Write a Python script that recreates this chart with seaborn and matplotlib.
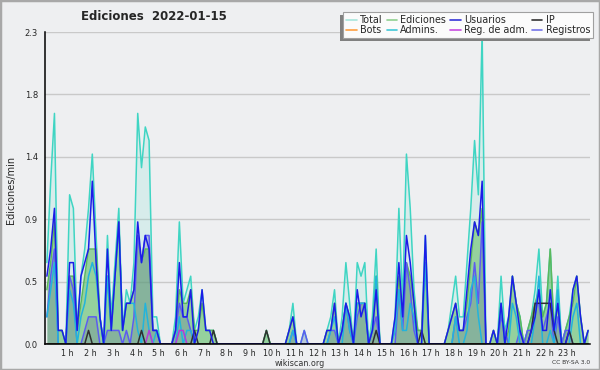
import numpy as np
import pandas as pd
import matplotlib
matplotlib.use("Agg")
import matplotlib.pyplot as plt
import seaborn as sns
from matplotlib.lines import Line2D
from matplotlib.patches import Rectangle

sns.set_style("white")
plt.rcParams["font.family"] = ["DejaVu Sans"]

# ---- data: edits per minute, 10-minute bins (one row = one hour) ----
total = [
    0.6, 1.2, 1.7, 0.1, 0.1, 0.0,
    1.1, 1.0, 0.1, 0.5, 0.7, 1.0,
    1.4, 0.8, 0.2, 0.0, 0.8, 0.2,
    0.6, 1.0, 0.1, 0.4, 0.3, 0.6,
    1.7, 1.3, 1.6, 1.5, 0.2, 0.2,
    0.0, 0.0, 0.0, 0.0, 0.2, 0.9,
    0.3, 0.4, 0.5, 0.1, 0.2, 0.4,
    0.1, 0.1, 0.1, 0.0, 0.0, 0.0,
    0.0, 0.0, 0.0, 0.0, 0.0, 0.0,
    0.0, 0.0, 0.0, 0.0, 0.1, 0.0,
    0.0, 0.0, 0.0, 0.0, 0.1, 0.3,
    0.0, 0.0, 0.1, 0.0, 0.0, 0.0,
    0.0, 0.0, 0.1, 0.2, 0.4, 0.0,
    0.2, 0.6, 0.3, 0.0, 0.6, 0.5,
    0.6, 0.0, 0.2, 0.7, 0.0, 0.0,
    0.0, 0.0, 0.2, 1.0, 0.3, 1.4,
    1.0, 0.4, 0.1, 0.1, 0.8, 0.0,
    0.0, 0.0, 0.0, 0.0, 0.1, 0.3,
    0.5, 0.2, 0.2, 0.6, 1.0, 1.5,
    1.1, 2.3, 0.0, 0.0, 0.1, 0.0,
    0.5, 0.1, 0.2, 0.5, 0.3, 0.2,
    0.0, 0.1, 0.2, 0.4, 0.7, 0.2,
    0.3, 0.7, 0.1, 0.5, 0.0, 0.1,
    0.2, 0.4, 0.5, 0.2, 0.0, 0.1,
]
ediciones = [
    0.4, 0.6, 0.9, 0.1, 0.1, 0.0,
    0.5, 0.5, 0.1, 0.3, 0.5, 0.7,
    0.7, 0.7, 0.2, 0.0, 0.5, 0.1,
    0.5, 0.9, 0.1, 0.3, 0.3, 0.4,
    0.8, 0.6, 0.7, 0.7, 0.1, 0.1,
    0.0, 0.0, 0.0, 0.0, 0.1, 0.4,
    0.3, 0.3, 0.4, 0.1, 0.1, 0.3,
    0.1, 0.1, 0.1, 0.0, 0.0, 0.0,
    0.0, 0.0, 0.0, 0.0, 0.0, 0.0,
    0.0, 0.0, 0.0, 0.0, 0.1, 0.0,
    0.0, 0.0, 0.0, 0.0, 0.1, 0.2,
    0.0, 0.0, 0.0, 0.0, 0.0, 0.0,
    0.0, 0.0, 0.1, 0.1, 0.3, 0.0,
    0.1, 0.3, 0.2, 0.0, 0.3, 0.3,
    0.3, 0.0, 0.1, 0.5, 0.0, 0.0,
    0.0, 0.0, 0.1, 0.5, 0.2, 0.6,
    0.5, 0.3, 0.1, 0.1, 0.6, 0.0,
    0.0, 0.0, 0.0, 0.0, 0.1, 0.2,
    0.3, 0.1, 0.1, 0.3, 0.6, 0.9,
    0.8, 1.0, 0.0, 0.0, 0.1, 0.0,
    0.3, 0.0, 0.1, 0.5, 0.3, 0.2,
    0.0, 0.1, 0.2, 0.3, 0.4, 0.2,
    0.3, 0.7, 0.1, 0.3, 0.0, 0.1,
    0.2, 0.3, 0.5, 0.2, 0.0, 0.1,
]
usuarios = [
    0.5, 0.7, 1.0, 0.1, 0.1, 0.0,
    0.6, 0.6, 0.1, 0.5, 0.6, 0.7,
    1.2, 0.6, 0.2, 0.0, 0.7, 0.1,
    0.5, 0.9, 0.1, 0.3, 0.3, 0.4,
    0.9, 0.6, 0.8, 0.7, 0.1, 0.1,
    0.0, 0.0, 0.0, 0.0, 0.1, 0.6,
    0.2, 0.2, 0.4, 0.0, 0.1, 0.4,
    0.1, 0.1, 0.0, 0.0, 0.0, 0.0,
    0.0, 0.0, 0.0, 0.0, 0.0, 0.0,
    0.0, 0.0, 0.0, 0.0, 0.0, 0.0,
    0.0, 0.0, 0.0, 0.0, 0.1, 0.2,
    0.0, 0.0, 0.0, 0.0, 0.0, 0.0,
    0.0, 0.0, 0.1, 0.1, 0.3, 0.0,
    0.1, 0.3, 0.2, 0.0, 0.4, 0.2,
    0.3, 0.0, 0.1, 0.4, 0.0, 0.0,
    0.0, 0.0, 0.2, 0.6, 0.2, 0.8,
    0.6, 0.3, 0.0, 0.0, 0.8, 0.0,
    0.0, 0.0, 0.0, 0.0, 0.1, 0.2,
    0.3, 0.1, 0.1, 0.4, 0.7, 0.9,
    0.8, 1.2, 0.0, 0.0, 0.1, 0.0,
    0.3, 0.0, 0.2, 0.5, 0.3, 0.1,
    0.0, 0.0, 0.1, 0.2, 0.4, 0.1,
    0.1, 0.4, 0.1, 0.3, 0.0, 0.0,
    0.1, 0.4, 0.5, 0.2, 0.0, 0.1,
]
ip = [0.0] * 144
for i_, v_ in [(11, 0.1), (25, 0.1), (39, 0.1), (44, 0.1), (58, 0.1), (87, 0.1),
               (99, 0.1), (128, 0.1), (129, 0.3), (130, 0.3), (131, 0.3),
               (132, 0.3), (133, 0.3), (134, 0.1), (138, 0.1)]:
    ip[i_] = v_
bots = [0.0] * 144
admins = [
    0.2, 0.4, 0.6, 0.0, 0.0, 0.0,
    0.4, 0.3, 0.0, 0.2, 0.3, 0.5,
    0.6, 0.5, 0.2, 0.0, 0.5, 0.1,
    0.5, 0.9, 0.1, 0.3, 0.3, 0.3,
    0.1, 0.0, 0.3, 0.1, 0.0, 0.1,
    0.0, 0.0, 0.0, 0.0, 0.0, 0.2,
    0.0, 0.1, 0.1, 0.0, 0.0, 0.0,
    0.0, 0.0, 0.0, 0.0, 0.0, 0.0,
    0.0, 0.0, 0.0, 0.0, 0.0, 0.0,
    0.0, 0.0, 0.0, 0.0, 0.0, 0.0,
    0.0, 0.0, 0.0, 0.0, 0.0, 0.1,
    0.0, 0.0, 0.0, 0.0, 0.0, 0.0,
    0.0, 0.0, 0.0, 0.1, 0.2, 0.0,
    0.0, 0.3, 0.1, 0.0, 0.3, 0.3,
    0.3, 0.0, 0.1, 0.5, 0.0, 0.0,
    0.0, 0.0, 0.1, 0.4, 0.1, 0.1,
    0.3, 0.2, 0.0, 0.0, 0.6, 0.0,
    0.0, 0.0, 0.0, 0.0, 0.0, 0.0,
    0.2, 0.0, 0.0, 0.1, 0.4, 0.5,
    0.2, 0.0, 0.0, 0.0, 0.0, 0.0,
    0.3, 0.0, 0.0, 0.3, 0.2, 0.0,
    0.0, 0.0, 0.0, 0.2, 0.5, 0.0,
    0.0, 0.1, 0.0, 0.4, 0.0, 0.0,
    0.0, 0.2, 0.3, 0.0, 0.0, 0.0,
]
reg_adm = [0.0] * 144
for i_ in (27, 35, 36):
    reg_adm[i_] = 0.1
registros = [
    0.2, 0.5, 0.7, 0.0, 0.0, 0.0,
    0.5, 0.4, 0.0, 0.0, 0.1, 0.2,
    0.2, 0.2, 0.0, 0.0, 0.1, 0.1,
    0.1, 0.1, 0.0, 0.1, 0.0, 0.2,
    0.8, 0.6, 0.8, 0.8, 0.1, 0.1,
    0.0, 0.0, 0.0, 0.0, 0.1, 0.3,
    0.2, 0.2, 0.1, 0.0, 0.0, 0.0,
    0.0, 0.0, 0.0, 0.0, 0.0, 0.0,
    0.0, 0.0, 0.0, 0.0, 0.0, 0.0,
    0.0, 0.0, 0.0, 0.0, 0.0, 0.0,
    0.0, 0.0, 0.0, 0.0, 0.0, 0.1,
    0.0, 0.0, 0.1, 0.0, 0.0, 0.0,
    0.0, 0.0, 0.0, 0.1, 0.1, 0.0,
    0.1, 0.3, 0.1, 0.0, 0.2, 0.3,
    0.3, 0.0, 0.1, 0.2, 0.0, 0.0,
    0.0, 0.0, 0.0, 0.4, 0.1, 0.6,
    0.4, 0.1, 0.0, 0.0, 0.0, 0.0,
    0.0, 0.0, 0.0, 0.0, 0.0, 0.0,
    0.2, 0.1, 0.1, 0.2, 0.3, 0.6,
    0.3, 0.9, 0.0, 0.0, 0.0, 0.0,
    0.2, 0.1, 0.0, 0.0, 0.0, 0.1,
    0.0, 0.1, 0.1, 0.3, 0.3, 0.1,
    0.2, 0.3, 0.0, 0.2, 0.0, 0.1,
    0.1, 0.0, 0.0, 0.0, 0.0, 0.0,
]

hour_labels = [f"{h} h" for h in range(1, 24)]
y_ticks = [0.0, 0.46, 0.92, 1.38, 1.84, 2.3]
legend_labels = ["Total", "Bots", "Ediciones", "Admins.", "Usuarios",
                 "Reg. de adm.", "IP", "Registros"]

# ---- styling ----
line_colors = {
    "Total": "#3fd5c3", "Ediciones": "#5cb85c", "Registros": "#5c5cf0",
    "Admins.": "#22b4dc", "Reg. de adm.": "#b53ad9", "Bots": "#ff9f40",
    "IP": "#303030", "Usuarios": "#1c1ce8",
}
legend_colors = {
    "Total": "#a8e6dc", "Ediciones": "#8fd08f", "Usuarios": "#3434d8",
    "IP": "#333333", "Bots": "#ff9f40", "Admins.": "#40c8d8",
    "Reg. de adm.": "#c84ce0", "Registros": "#7474e8",
}
series = {
    "Total": total, "Ediciones": ediciones, "Registros": registros,
    "Admins.": admins, "Reg. de adm.": reg_adm, "Bots": bots,
    "IP": ip, "Usuarios": usuarios,
}
draw_order = list(series.keys())

n = len(total)
x = (np.arange(n) + 0.5) / 6.0
df = pd.DataFrame({
    "hora": np.tile(x, len(series)),
    "valor": np.concatenate([np.asarray(series[k], float) for k in draw_order]),
    "serie": np.repeat(draw_order, n),
})

bg = "#eeeff1"
fig = plt.figure(figsize=(6, 3.7), dpi=100, facecolor=bg)
ax = fig.add_axes([45 / 600, 26 / 370, 545 / 600, 312 / 370])
ax.set_facecolor(bg)

ax.fill_between(x, total, color="#40d8c8", alpha=0.13, lw=0, zorder=1)
ax.fill_between(x, ediciones, color="#6abf69", alpha=0.6, lw=0, zorder=1.1)
ax.fill_between(x, registros, color="#5a5a9a", alpha=0.25, lw=0, zorder=1.2)

sns.lineplot(data=df, x="hora", y="valor", hue="serie", hue_order=draw_order,
             palette=line_colors, legend=False, ax=ax, linewidth=1.1,
             estimator=None, sort=False, zorder=2)

ax.set_xlim(0, 24)
ax.set_ylim(0, 2.3)
ax.set_xticks(range(1, 24))
ax.set_xticklabels(hour_labels)
ax.set_xticks(np.arange(0, 24.01, 1 / 6), minor=True)
ax.set_yticks(y_ticks)
ax.set_yticklabels([f"{v:.1f}" for v in y_ticks])
ax.set_yticks([0.23, 0.69, 1.15, 1.61, 2.07], minor=True)
ax.set_xlabel("")
ax.set_ylabel("")
ax.yaxis.grid(True, color="#c9c9c9", lw=1)
ax.set_axisbelow(True)
for s in ("top", "right"):
    ax.spines[s].set_visible(False)
for s in ("left", "bottom"):
    ax.spines[s].set_color("black")
    ax.spines[s].set_linewidth(1.1)
    ax.spines[s].set_zorder(3)
ax.tick_params(axis="both", which="major", direction="out", length=3.5,
               width=0.9, color="black", labelsize=6, pad=1.5)
ax.tick_params(axis="both", which="minor", direction="out", length=2.5,
               width=0.9, color="black")
ax.tick_params(axis="x", which="major", pad=0.3, labelsize=5.8)

fig.text(154 / 600, 1 - 17 / 370, "Ediciones  2022-01-15", ha="center",
         va="center", fontsize=8.5, weight="bold")
fig.text(11 / 600, 1 - 190 / 370, "Ediciones/min", rotation=90, ha="center",
         va="center", fontsize=7)
fig.text(300 / 600, 1 - 363 / 370, "wikiscan.org", ha="center", va="center",
         fontsize=5.8, color="#333333")
fig.text(590 / 600, 1 - 363 / 370, "CC BY-SA 3.0", ha="right", va="center",
         fontsize=4.3, color="#333333")

handles = [Line2D([0], [0], color=legend_colors[k], lw=1.2) for k in legend_labels]
leg = fig.legend(handles, legend_labels, ncol=4, loc="upper right",
                 bbox_to_anchor=(593 / 600, 1 - 12 / 370), fontsize=6.9,
                 frameon=True, fancybox=False, edgecolor="#a0a0a0",
                 facecolor="#fbfbfb", framealpha=1, handlelength=1.1,
                 handletextpad=0.35, columnspacing=0.4, labelspacing=0.0,
                 borderpad=0.3, borderaxespad=0)
leg.get_frame().set_linewidth(0.8)
leg.set_zorder(10)

fig.canvas.draw()
bb = leg.get_window_extent().transformed(fig.transFigure.inverted())
fig.patches.append(Rectangle((bb.x0 - 3 / 600, bb.y0 - 3 / 370), bb.width, bb.height,
                             transform=fig.transFigure, facecolor="#808080",
                             edgecolor="none", zorder=9))
fig.patches.append(Rectangle((0, 0), 1, 1, transform=fig.transFigure, fill=False,
                             edgecolor="#a8a8a8", lw=2.5, zorder=20))

fig.savefig("out.png", dpi=100, facecolor=bg)
